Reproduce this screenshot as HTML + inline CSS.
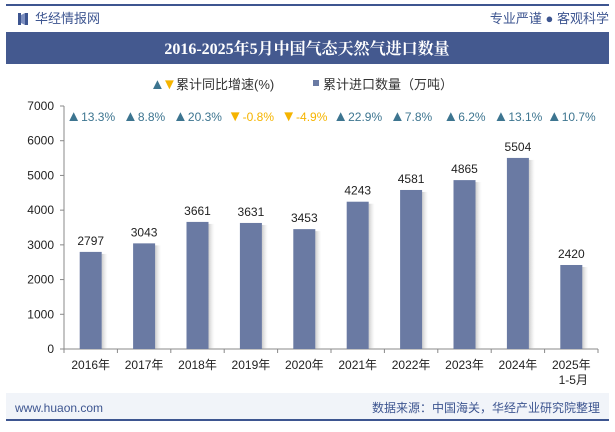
<!DOCTYPE html>
<html><head><meta charset="utf-8"><style>
body{margin:0;width:615px;height:427px;background:#fff;font-family:"Liberation Sans","Noto Sans CJK SC",sans-serif;overflow:hidden}
</style></head><body>
<svg width="615" height="427" xmlns="http://www.w3.org/2000/svg" font-family="Liberation Sans, Noto Sans CJK SC, sans-serif">
<defs><linearGradient id="sh" x1="0" x2="1"><stop offset="0" stop-color="#999" stop-opacity="0.5"/><stop offset="1" stop-color="#ccc" stop-opacity="0"/></linearGradient></defs>
<rect x="6" y="4" width="603" height="2" fill="#3d5590"/>
<rect x="6" y="419" width="603" height="2" fill="#3d5590"/>
<g><rect x="18" y="13" width="3" height="12" fill="#3d5590"/><rect x="25" y="13" width="3" height="12" fill="#3d5590"/><polygon points="21,15 25,13 25,25 21,23" fill="#7d8fbf"/></g>
<text x="35" y="23" font-size="13" fill="#3d5590">华经情报网</text>
<text x="609" y="23" font-size="13" fill="#3d5590" text-anchor="end">专业严谨 ● 客观科学</text>
<rect x="6" y="32" width="603" height="32" fill="#44598f"/>
<text x="307" y="54" font-size="16" font-weight="bold" fill="#fff" text-anchor="middle" font-family="Liberation Serif, Noto Serif CJK SC, serif">2016-2025年5月中国气态天然气进口数量</text>
<g>
<text x="150" y="89" font-size="15" fill="#3d7590">▲</text>
<text x="162" y="89" font-size="15" fill="#f5b400">▼</text>
<text x="176" y="89" font-size="13" fill="#333">累计同比增速(%)</text>
<rect x="313" y="80" width="6" height="6" fill="#6a7aa3"/>
<text x="323" y="89" font-size="13" fill="#333">累计进口数量（万吨）</text>
</g>
<g id="axes"></g><g id="bars"></g>
<rect x="6" y="393" width="603" height="26" fill="#f1f4f9"/>
<text x="15" y="412" font-size="12" fill="#3d5590">www.huaon.com</text>
<text x="600" y="412" font-size="12" fill="#3d5590" text-anchor="end">数据来源：中国海关，华经产业研究院整理</text>
</svg>
<script>
const categories=["2016年","2017年","2018年","2019年","2020年","2021年","2022年","2023年","2024年","2025年"];
const volumes=[2797,3043,3661,3631,3453,4243,4581,4865,5504,2420];
const growth=[13.3,8.8,20.3,-0.8,-4.9,22.9,7.8,6.2,13.1,10.7];
const yTicks=[0,1000,2000,3000,4000,5000,6000,7000];
const NS="http://www.w3.org/2000/svg";
const x0=64,x1=598,yb=349,yt=106,ymax=7000;
const bw=(x1-x0)/categories.length;
const y=v=>yb-(v/ymax)*(yb-yt);
const cx=i=>x0+bw*(i+0.5);
function mk(t,a,p,txt){const e=document.createElementNS(NS,t);for(const k in a)e.setAttribute(k,a[k]);if(txt!==undefined)e.textContent=txt;p.appendChild(e);return e;}
const ax=document.getElementById('axes'),bg=document.getElementById('bars');
let l=mk('line',{x1:x0,y1:yt,x2:x0,y2:yb,stroke:'#888'},ax);


l=mk('line',{x1:x0,y1:yb,x2:x1,y2:yb,stroke:'#888'},ax);


yTicks.forEach(v=>{
 mk('line',{x1:x0-4,y1:y(v),x2:x0,y2:y(v),stroke:'#888'},ax);
 const t=mk('text',{x:x0-10,y:y(v)+4,'font-size':12,fill:'#222','text-anchor':'end'},ax,String(v));
 
 
});
for(let i=0;i<=categories.length;i++)mk('line',{x1:x0+bw*i,y1:yb,x2:x0+bw*i,y2:yb+4,stroke:'#888'},ax);
categories.forEach((c,i)=>{
 const t=mk('text',{x:cx(i),y:yb+20,'font-size':12,fill:'#222','text-anchor':'middle'},ax,c);
 
 
});
const t2=mk('text',{x:cx(9)+2,y:yb+35,'font-size':12,fill:'#222','text-anchor':'middle'},ax,'1-5月');


volumes.forEach((v,i)=>{
 const bx=cx(i)-11;
 mk('rect',{x:bx+22,y:y(v)+2,width:6,height:yb-y(v)-2,fill:'url(#sh)'},bg);
 const r=mk('rect',{x:bx,y:y(v),width:22,height:yb-y(v),fill:'#6a7aa3'},bg);
 
 
 const t=mk('text',{x:cx(i),y:y(v)-7,'font-size':12,fill:'#222','text-anchor':'middle'},bg,String(v));
 
 
 const g=growth[i];
 const gt=mk('text',{x:cx(i),y:121,'font-size':12,fill:g>=0?'#3d7590':'#f5b400','text-anchor':'middle'},bg);
 mk('tspan',{'font-size':15},gt,g>=0?'▲':'▼');
 mk('tspan',{},gt,g.toFixed(1)+'%');
 
 
});
</script>
</body></html>
